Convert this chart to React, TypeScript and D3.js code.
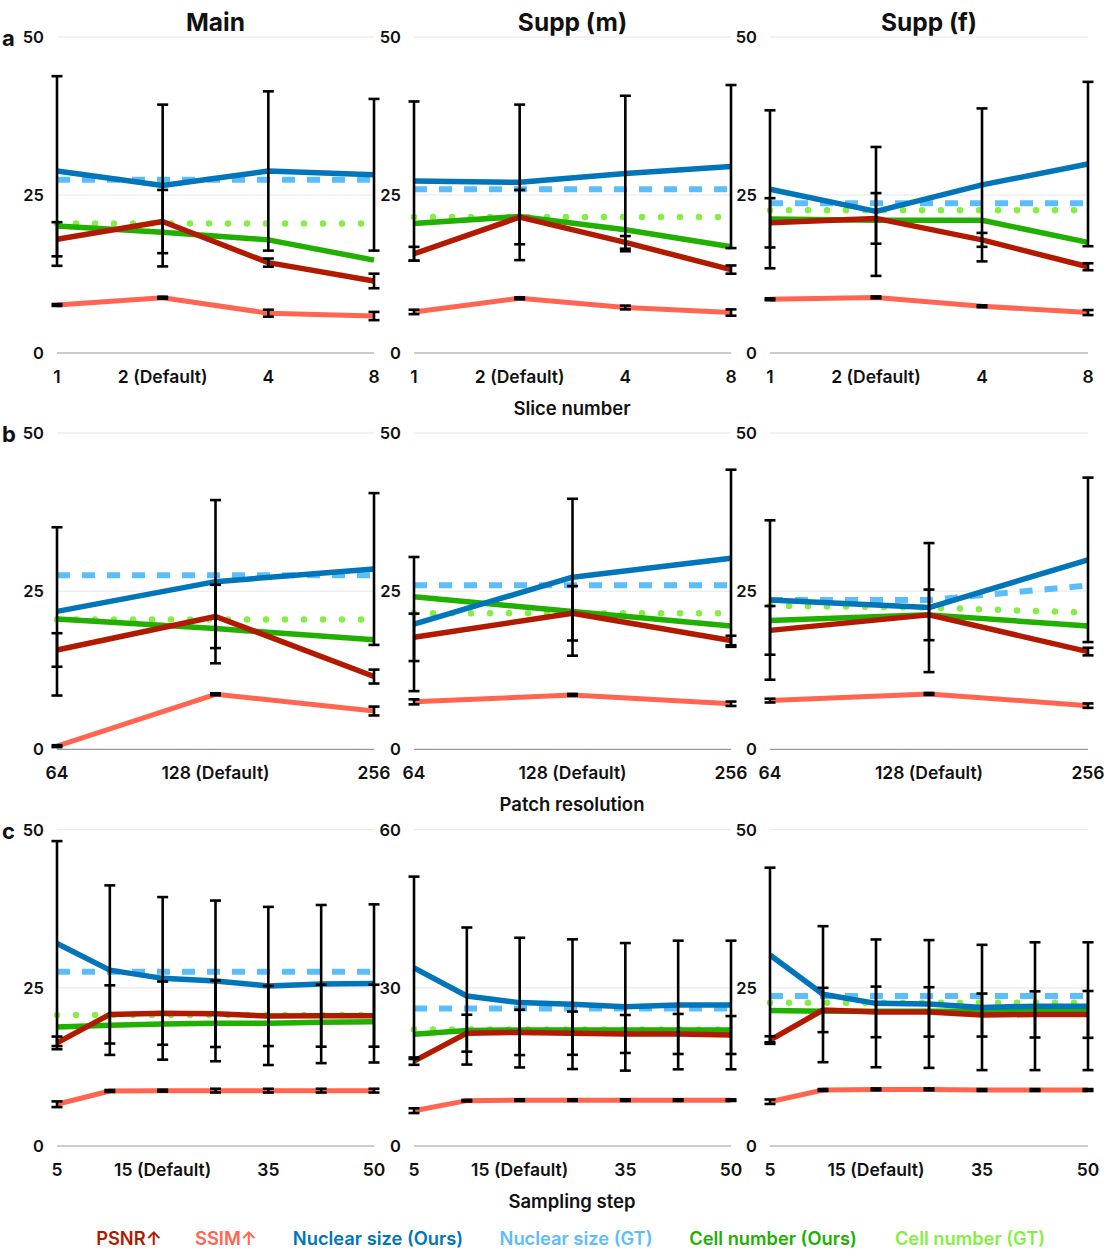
import React from "react";
import * as d3 from "d3";

// ---------- categories / tick labels ----------
const panelTitles = ["Main", "Supp (m)", "Supp (f)"];
const rowLetters = ["a", "b", "c"];
const rowAxisTitles = ["Slice number", "Patch resolution", "Sampling step"];
const sliceLabels = ["1", "2 (Default)", "4", "8"];
const resLabels = ["64", "128 (Default)", "256"];
const stepLabels = ["5", "", "15 (Default)", "", "35", "", "50"];
const sliceYMax = [50, 50, 50];
const resYMax = [50, 50, 50];
const stepYMax = [50, 60, 50];

// ---------- row a: slice number ----------
const slicePsnr = [[18.0, 20.8, 14.3, 11.4], [15.7, 21.5, 17.5, 13.2], [20.6, 21.3, 17.9, 13.65]];
const slicePsnrSd = [[2.7, 5.0, 0.65, 1.15], [1.1, 4.3, 1.0, 0.65], [3.9, 4.0, 1.1, 0.55]];
const sliceSsim = [[7.6, 8.75, 6.3, 5.85], [6.5, 8.65, 7.2, 6.4], [8.5, 8.8, 7.4, 6.4]];
const sliceSsimSd = [[0.15, 0.15, 0.55, 0.65], [0.35, 0.15, 0.3, 0.5], [0.15, 0.15, 0.15, 0.4]];
const sliceNuc = [[28.8, 26.5, 28.8, 28.2], [27.2, 27.0, 28.4, 29.5], [25.9, 22.4, 26.6, 29.9]];
const sliceNucSd = [[15.0, 12.8, 12.6, 12.0], [12.6, 12.3, 12.3, 12.9], [12.5, 10.2, 12.1, 13.0]];
const sliceNucGT = [[27.4, 27.4, 27.4, 27.4], [25.9, 25.9, 25.9, 25.9], [23.7, 23.7, 23.7, 23.7]];
const sliceCell = [[20.1, 19.1, 17.9, 14.7], [20.5, 21.6, 19.5, 16.8], [21.2, 21.0, 21.0, 17.5]];
const sliceCellGT = [[20.5, 20.5, 20.5, 20.5], [21.5, 21.5, 21.5, 21.5], [22.6, 22.6, 22.6, 22.6]];

// ---------- row b: patch resolution ----------
const resPsnr = [[15.7, 21.0, 11.5], [17.7, 21.5, 17.2], [18.8, 21.25, 15.45]];
const resPsnrSd = [[2.65, 5.0, 1.1], [3.75, 4.3, 0.75], [3.85, 4.0, 0.6]];
const resSsim = [[0.5, 8.7, 6.05], [7.5, 8.6, 7.2], [7.7, 8.75, 6.9]];
const resSsimSd = [[0.15, 0.15, 0.7], [0.4, 0.15, 0.35], [0.3, 0.15, 0.35]];
const resNuc = [[21.8, 26.5, 28.5], [19.8, 27.2, 30.2], [23.6, 22.4, 29.95]];
const resNucSd = [[13.3, 12.9, 12.0], [10.6, 12.4, 14.0], [12.6, 10.2, 13.0]];
const resNucGT = [[27.5, 27.5, 27.5], [25.95, 25.95, 25.95], [23.6, 23.6, 25.9]];
const resCell = [[20.6, 19.1, 17.3], [24.1, 21.8, 19.5], [20.35, 21.25, 19.5]];
const resCellGT = [[20.5, 20.5, 20.5], [21.5, 21.5, 21.5], [22.7, 22.4, 21.6]];

// ---------- row c: sampling step ----------
const stepPsnr = [
  [16.3, 20.8, 21.0, 20.9, 20.55, 20.6, 20.6],
  [16.1, 21.4, 21.55, 21.4, 21.25, 21.25, 21.05],
  [16.75, 21.5, 21.2, 21.2, 20.7, 20.8, 20.8],
];
const stepPsnrSd = [
  [1.0, 4.6, 5.0, 5.25, 4.75, 4.9, 4.9],
  [0.7, 3.5, 4.3, 4.1, 3.6, 3.8, 3.6],
  [0.6, 3.5, 4.0, 3.9, 3.4, 3.65, 3.7],
];
const stepSsim = [
  [6.6, 8.7, 8.75, 8.75, 8.75, 8.75, 8.75],
  [6.7, 8.6, 8.7, 8.7, 8.7, 8.7, 8.7],
  [7.0, 8.85, 8.95, 8.95, 8.85, 8.85, 8.85],
];
const stepSsimSd = [
  [0.45, 0.15, 0.15, 0.3, 0.3, 0.3, 0.3],
  [0.45, 0.15, 0.15, 0.15, 0.15, 0.15, 0.15],
  [0.35, 0.15, 0.15, 0.15, 0.15, 0.15, 0.15],
];
const stepNuc = [
  [32.0, 27.8, 26.5, 26.1, 25.3, 25.6, 25.7],
  [33.8, 28.45, 27.2, 26.9, 26.4, 26.75, 26.75],
  [30.2, 24.0, 22.55, 22.45, 21.9, 22.1, 22.1],
];
const stepNucSd = [
  [16.2, 13.4, 12.85, 12.7, 12.5, 12.5, 12.5],
  [17.3, 13.0, 12.3, 12.3, 12.1, 12.2, 12.2],
  [13.8, 10.75, 10.1, 10.1, 9.9, 10.1, 10.1],
];
const stepNucGT = [
  [27.55, 27.55, 27.55, 27.55, 27.55, 27.55, 27.55],
  [26.1, 26.1, 26.1, 26.1, 26.1, 26.1, 26.1],
  [23.7, 23.7, 23.7, 23.7, 23.7, 23.7, 23.7],
];
const stepCell = [
  [18.8, 19.1, 19.3, 19.4, 19.4, 19.55, 19.65],
  [21.2, 21.9, 22.0, 22.0, 22.0, 22.0, 22.0],
  [21.4, 21.3, 21.3, 21.3, 21.3, 21.4, 21.5],
];
const stepCellGT = [
  [20.7, 20.7, 20.7, 20.7, 20.7, 20.7, 20.7],
  [22.1, 22.1, 22.1, 22.1, 22.1, 22.1, 22.1],
  [22.65, 22.65, 22.65, 22.65, 22.65, 22.65, 22.65],
];

// ---------- legend ----------
const legendLabels = ["PSNR↑", "SSIM↑", "Nuclear size (Ours)", "Nuclear size (GT)", "Cell number (Ours)", "Cell number (GT)"];

// ---------- styles ----------
const C = {
  psnr: "#b21a00",
  ssim: "#ff6550",
  nuc: "#0075b9",
  nucGT: "#5cbdfb",
  cell: "#22b000",
  cellGT: "#85ee45",
};
const legendColors = [C.psnr, C.ssim, C.nuc, C.nucGT, C.cell, C.cellGT];
const legendCenters = [129, 226, 378, 576, 773, 970];

const FONT = "Inter, 'Liberation Sans', Arial, sans-serif";
const colLeft = [57, 414, 770];
const colRight = [374, 731, 1088];
const rowTopY = [37, 433, 829.7];
const rowZeroY = [353, 749.3, 1146];

type PanelData = {
  labels: string[];
  yMax: number;
  psnr: number[];
  psnrSd: number[];
  ssim: number[];
  ssimSd: number[];
  nuc: number[];
  nucSd: number[];
  nucGT: number[];
  cell: number[];
  cellGT: number[];
};

function Panel({ d, row, col }: { d: PanelData; row: number; col: number }) {
  const idx = d.labels.map((_, i) => i);
  const x = d3.scalePoint<number>().domain(idx).range([colLeft[col], colRight[col]]).padding(0);
  const y = d3.scaleLinear().domain([0, d.yMax]).range([rowZeroY[row], rowTopY[row]]);
  const line = (vals: number[]) =>
    d3.line<number>().x((_, i) => x(i) as number).y((v) => y(v))(vals) || "";
  const ticks = [0, d.yMax / 2, d.yMax];
  const capW = 5.5;
  const errBars = (vals: number[], sds: number[], key: string) =>
    vals.map((v, i) => {
      const cx = x(i) as number;
      const y1 = y(v + sds[i]);
      const y2 = y(v - sds[i]);
      return (
        <g key={key + i} stroke="#000" strokeWidth={2.6}>
          <line x1={cx} x2={cx} y1={y1} y2={y2} />
          <line x1={cx - capW} x2={cx + capW} y1={y1} y2={y1} />
          <line x1={cx - capW} x2={cx + capW} y1={y2} y2={y2} />
        </g>
      );
    });
  return (
    <g>
      {ticks.map((t) => (
        <g key={t}>
          <line
            x1={colLeft[col]}
            x2={colRight[col]}
            y1={y(t)}
            y2={y(t)}
            stroke={t === 0 ? "#9a9a9a" : "#e6e6e6"}
            strokeWidth={t === 0 ? 1.2 : 1}
          />
          <text
            x={colLeft[col] - 13}
            y={y(t)}
            textAnchor="end"
            dominantBaseline="central"
            fontSize={16.5}
            fontWeight={600}
            fill="#111"
          >
            {t}
          </text>
        </g>
      ))}
      {d.labels.map((l, i) =>
        l ? (
          <text
            key={"xl" + i}
            x={x(i) as number}
            y={rowZeroY[row] + 23}
            textAnchor="middle"
            dominantBaseline="central"
            fontSize={17.5}
            fontWeight={600}
            fill="#111"
          >
            {l}
          </text>
        ) : null
      )}
      <path d={line(d.cellGT)} fill="none" stroke={C.cellGT} strokeWidth={6.5} strokeLinecap="round" strokeDasharray="0 19" />
      <path d={line(d.nucGT)} fill="none" stroke={C.nucGT} strokeWidth={6} strokeDasharray="13 12" />
      <path d={line(d.cell)} fill="none" stroke={C.cell} strokeWidth={5.5} strokeLinejoin="round" />
      <path d={line(d.nuc)} fill="none" stroke={C.nuc} strokeWidth={5.5} strokeLinejoin="round" />
      <path d={line(d.psnr)} fill="none" stroke={C.psnr} strokeWidth={5.5} strokeLinejoin="round" />
      <path d={line(d.ssim)} fill="none" stroke={C.ssim} strokeWidth={5} strokeLinejoin="round" />
      {errBars(d.nuc, d.nucSd, "n")}
      {errBars(d.psnr, d.psnrSd, "p")}
      {errBars(d.ssim, d.ssimSd, "s")}
    </g>
  );
}

export default function App() {
  const rows: PanelData[][] = [0, 1, 2].map((r) => {
    const src =
      r === 0
        ? { labels: sliceLabels, yMax: sliceYMax, psnr: slicePsnr, psnrSd: slicePsnrSd, ssim: sliceSsim, ssimSd: sliceSsimSd, nuc: sliceNuc, nucSd: sliceNucSd, nucGT: sliceNucGT, cell: sliceCell, cellGT: sliceCellGT }
        : r === 1
        ? { labels: resLabels, yMax: resYMax, psnr: resPsnr, psnrSd: resPsnrSd, ssim: resSsim, ssimSd: resSsimSd, nuc: resNuc, nucSd: resNucSd, nucGT: resNucGT, cell: resCell, cellGT: resCellGT }
        : { labels: stepLabels, yMax: stepYMax, psnr: stepPsnr, psnrSd: stepPsnrSd, ssim: stepSsim, ssimSd: stepSsimSd, nuc: stepNuc, nucSd: stepNucSd, nucGT: stepNucGT, cell: stepCell, cellGT: stepCellGT };
    return [0, 1, 2].map((c) => ({
      labels: src.labels,
      yMax: src.yMax[c],
      psnr: src.psnr[c],
      psnrSd: src.psnrSd[c],
      ssim: src.ssim[c],
      ssimSd: src.ssimSd[c],
      nuc: src.nuc[c],
      nucSd: src.nucSd[c],
      nucGT: src.nucGT[c],
      cell: src.cell[c],
      cellGT: src.cellGT[c],
    }));
  });

  return (
    <svg
      width={1104}
      height={1260}
      style={{ position: "absolute", left: 0, top: 0, background: "#fff" }}
      fontFamily={FONT}
    >
      <rect width={1104} height={1260} fill="#fff" />
      {panelTitles.map((t, c) => (
        <text
          key={t}
          x={(colLeft[c] + colRight[c]) / 2}
          y={22}
          textAnchor="middle"
          dominantBaseline="central"
          fontSize={24.5}
          fontWeight={700}
          fill="#111"
        >
          {t}
        </text>
      ))}
      {rowLetters.map((l, r) => (
        <text key={l} x={2} y={rowTopY[r] + 1} dominantBaseline="central" fontSize={22} fontWeight={700} fill="#111">
          {l}
        </text>
      ))}
      {rowAxisTitles.map((t, r) => (
        <text
          key={t}
          x={572}
          y={rowZeroY[r] + 55}
          textAnchor="middle"
          dominantBaseline="central"
          fontSize={18.5}
          fontWeight={600}
          fill="#111"
        >
          {t}
        </text>
      ))}
      {rows.map((rr, r) => rr.map((d, c) => <Panel key={r + "-" + c} d={d} row={r} col={c} />))}
      {legendLabels.map((l, i) => (
        <text
          key={l}
          x={legendCenters[i]}
          y={1238}
          textAnchor="middle"
          dominantBaseline="central"
          fontSize={18.3}
          fontWeight={600}
          fill={legendColors[i]}
        >
          {l}
        </text>
      ))}
    </svg>
  );
}
